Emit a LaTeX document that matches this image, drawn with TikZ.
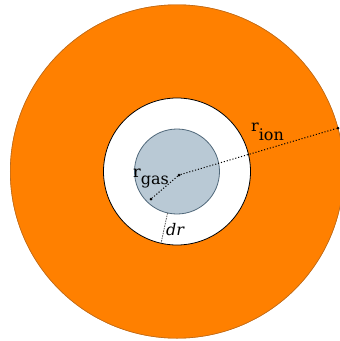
\documentclass[tikz,border=0pt]{standalone}
\usepackage{fontspec}
\setmainfont{DejaVu Serif}
\definecolor{ringorange}{HTML}{FF8000}
\definecolor{ringedge}{HTML}{B86A20}
\definecolor{gasfill}{HTML}{B9C9D5}
\definecolor{gasedge}{HTML}{50687A}
\tikzset{
  radline/.style={line width=1pt, dash pattern=on 1.1pt off 1.9pt, black},
  drline/.style={line width=0.8pt, dash pattern=on 1.5pt off 1pt, black!65},
  enddot/.style={circle, fill=black, inner sep=0pt, minimum size=3pt},
  lbl/.style={inner sep=0pt, font=\fontsize{16}{18}\selectfont}
}
\begin{document}
\begin{tikzpicture}[x=1pt,y=-1pt]
\useasboundingbox (0,0) rectangle (340,341);
\clip (0,0) rectangle (340,341);
\coordinate (c) at (177,171.5);
\fill[ringorange] (c) circle[radius=167pt];
\draw[ringedge, line width=0.6pt] (c) circle[radius=166.7pt];
\filldraw[fill=white, draw=black, line width=0.8pt] (c) circle[radius=73.5pt];
\filldraw[fill=gasfill, draw=gasedge, line width=0.8pt] (c) circle[radius=42.5pt];
% radius lines
\node[enddot] (cd) at (179,175) {};
\node[enddot] (ion) at (338,128) {};
\node[enddot] (gas) at (151,199) {};
\draw[radline] (cd) -- (ion);
\draw[radline] (cd) -- (gas);
\coordinate (dra) at (167.5,213.2);
\coordinate (drb) at (161,243.5);
\draw[drline] (dra) -- (drb);
% labels
\node[lbl, anchor=base west] (rion) at (251,131) {r\raisebox{-9pt}{ion}};
\node[lbl, anchor=base west] (rgas) at (133,177) {r\raisebox{-7pt}{gas}};
\node[lbl, anchor=base west] (dr) at (166,235) {\itshape dr};
\end{tikzpicture}
\end{document}
